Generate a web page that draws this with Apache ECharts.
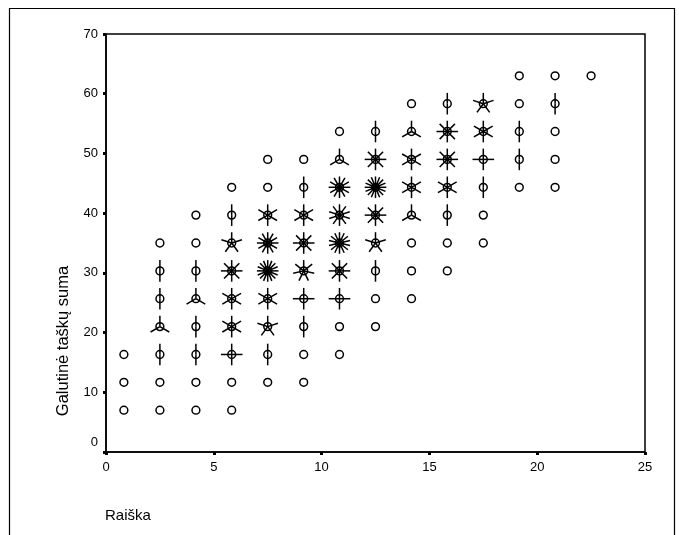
<!DOCTYPE html>
<html>
<head>
<meta charset="utf-8">
<script src="https://cdn.jsdelivr.net/npm/echarts@6/dist/echarts.min.js"></script>
<style>html,body{margin:0;padding:0;background:#fff}#c{width:679px;height:535px}</style>
</head>
<body>
<div id="c"></div>
<script>
// Bin centres (x = Raiška, y = Galutinė taškų suma)
const xBins = [0.83, 2.5, 4.17, 5.83, 7.5, 9.17, 10.83, 12.5, 14.17, 15.83, 17.5, 19.17, 20.83, 22.5];
const yBins = [7, 11.67, 16.33, 21, 25.67, 30.33, 35, 39.67, 44.33, 49, 53.67, 58.33, 63];
// Observation counts per x-bin (each list runs over yBins, bottom to top)
const col01 = [1,1,1,0,0,0,0,0,0,0,0,0,0];
const col02 = [1,1,2,3,2,2,1,0,0,0,0,0,0];
const col03 = [1,1,2,2,3,2,1,1,0,0,0,0,0];
const col04 = [1,1,4,6,6,8,5,2,1,0,0,0,0];
const col05 = [0,1,2,5,6,16,12,6,1,1,0,0,0];
const col06 = [0,1,1,2,4,7,8,6,2,1,0,0,0];
const col07 = [0,0,1,1,4,8,14,10,12,3,1,0,0];
const col08 = [0,0,0,1,1,2,5,8,16,8,2,0,0];
const col09 = [0,0,0,0,1,1,1,3,6,6,3,1,0];
const col10 = [0,0,0,0,0,1,1,2,6,8,8,2,0];
const col11 = [0,0,0,0,0,0,1,1,2,4,6,5,0];
const col12 = [0,0,0,0,0,0,0,0,1,2,2,1,1];
const col13 = [0,0,0,0,0,0,0,0,1,1,1,2,1];
const col14 = [0,0,0,0,0,0,0,0,0,0,0,0,1];
const columns = [col01,col02,col03,col04,col05,col06,col07,col08,col09,col10,col11,col12,col13,col14];
const xTicks = [0, 5, 10, 15, 20, 25];
const yTicks = [0, 10, 20, 30, 40, 50, 60, 70];

const points = [];
columns.forEach((col, i) => col.forEach((n, j) => { if (n > 0) points.push([xBins[i], yBins[j], n]); }));

const FONT = '"Liberation Sans", Arial, sans-serif';
const chart = echarts.init(document.getElementById('c'), null, {renderer: 'canvas'});

function renderSunflower(params, api) {
  const p = api.coord([api.value(0), api.value(1)]);
  const n = api.value(2);
  const L = 10.8;
  const children = [{
    type: 'circle',
    shape: {cx: p[0], cy: p[1], r: 3.9},
    style: {fill: '#fff', stroke: '#000', lineWidth: 1.5}
  }];
  if (n >= 2) {
    for (let k = 0; k < n; k++) {
      const a = Math.PI / 2 + k * 2 * Math.PI / n;
      children.push({
        type: 'line',
        shape: {x1: p[0], y1: p[1], x2: p[0] + L * Math.cos(a), y2: p[1] - L * Math.sin(a)},
        style: {stroke: '#000', lineWidth: 1.5}
      });
    }
  }
  return {type: 'group', children};
}

chart.setOption({
  animation: false,
  backgroundColor: '#fff',
  grid: {left: 106, right: 34, top: 34, bottom: 83, show: true, borderColor: '#000', borderWidth: 1.5, backgroundColor: 'transparent'},
  xAxis: {
    type: 'value', min: xTicks[0], max: xTicks[xTicks.length - 1], interval: 5,
    splitLine: {show: false},
    axisLine: {show: true, onZero: false, lineStyle: {color: '#000', width: 1.5}},
    axisTick: {show: true, length: 3, lineStyle: {color: '#000', width: 3}},
    axisLabel: {color: '#000', fontFamily: FONT, fontSize: 13, margin: 9}
  },
  yAxis: {
    type: 'value', min: yTicks[0], max: yTicks[yTicks.length - 1], interval: 10,
    splitLine: {show: false},
    axisLine: {show: true, onZero: false, lineStyle: {color: '#000', width: 1.5}},
    axisTick: {show: true, length: 3, lineStyle: {color: '#000', width: 3}},
    axisLabel: {
      color: '#000', fontFamily: FONT, fontSize: 13, margin: 8,
      formatter: v => v === 0 ? '{z|0}' : String(v),
      rich: {z: {fontFamily: FONT, fontSize: 13, color: '#000', padding: [0, 0, 20, 0]}}
    }
  },
  graphic: [
    {type: 'rect', left: 7, top: 6, shape: {width: 665, height: 540}, style: {fill: 'none', stroke: '#000', lineWidth: 1.2}, silent: true, z: -1},
    {type: 'text', x: 63, y: 341, rotation: Math.PI / 2,
     style: {text: 'Galutinė taškų suma', font: '16.5px ' + FONT, fill: '#000', align: 'center', verticalAlign: 'middle'}},
    {type: 'text', x: 105, y: 516,
     style: {text: 'Raiška', font: '15px ' + FONT, fill: '#000', align: 'left', verticalAlign: 'middle'}}
  ],
  series: [{
    type: 'custom',
    coordinateSystem: 'cartesian2d',
    renderItem: renderSunflower,
    encode: {x: 0, y: 1},
    data: points,
    clip: false
  }]
});
</script>
</body>
</html>
